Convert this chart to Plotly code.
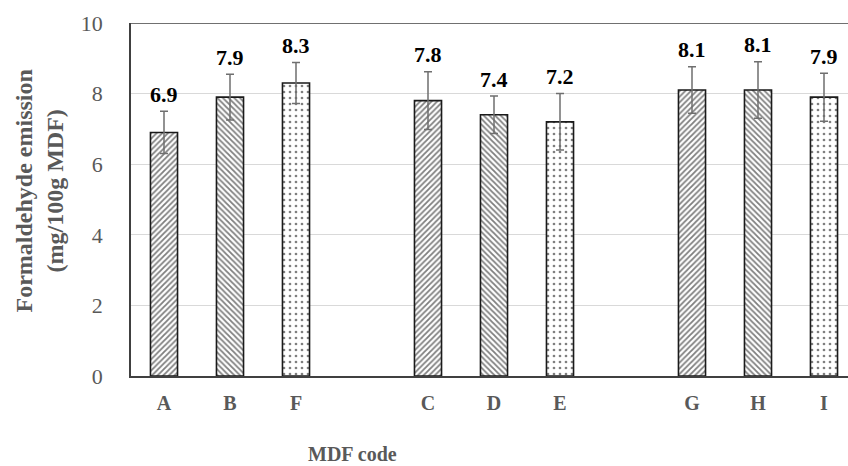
import plotly.graph_objects as go

# ---- data ----
groups = [["A", "B", "F"], ["C", "D", "E"], ["G", "H", "I"]]
values = [6.9, 7.9, 8.3, 7.8, 7.4, 7.2, 8.1, 8.1, 7.9]
errors = [0.6, 0.65, 0.58, 0.82, 0.53, 0.8, 0.66, 0.8, 0.68]
patterns = ["/", "\\", ".", "/", "\\", ".", "/", "\\", "."]
y_ticks = [0, 2, 4, 6, 8, 10]

# slot index for each bar: one empty slot between groups
codes, xpos = [], []
slot = 0
for g in groups:
    for c in g:
        codes.append(c)
        xpos.append(slot)
        slot += 1
    slot += 1

W, H = 848, 466
ML, MT, MB, MR = 131, 23, 90, 0
plot_w = W - ML - MR
slot_px = 66
x_max = -0.5 + plot_w / slot_px

GREY = "#595959"
FONT = "Liberation Serif"

pat_size = [4 if p != "." else 6 for p in patterns]
pat_sol = [0.45 if p != "." else 0.16 for p in patterns]

fig = go.Figure()
fig.add_trace(go.Bar(
    x=xpos, y=values, width=0.41,
    marker=dict(
        color="white",
        line=dict(color="#1a1a1a", width=1.6),
        pattern=dict(shape=patterns, fgcolor="black", bgcolor="white",
                     size=pat_size, solidity=pat_sol, fillmode="overlay"),
    ),
    error_y=dict(type="data", array=errors, visible=True,
                 color="#6f6f6f", thickness=1.5, width=4),
    hoverinfo="skip",
))

for x, v, e in zip(xpos, values, errors):
    fig.add_annotation(x=x, y=v + e, text=f"<b>{v:.1f}</b>", showarrow=False,
                       yanchor="middle", yshift=17,
                       font=dict(family=FONT, size=22, color="black"))

# axis titles
fig.add_annotation(xref="paper", yref="paper", x=0, y=0.5, xshift=-92, yshift=8,
                   text="<b>Formaldehyde emission<br>(mg/100g MDF)</b>",
                   textangle=-90, showarrow=False, xanchor="center", yanchor="middle",
                   font=dict(family=FONT, size=24, color=GREY))
fig.add_annotation(xref="paper", yref="paper", x=0, y=0, xshift=352 - ML, yshift=-78,
                   text="<b>MDF code</b>", showarrow=False,
                   xanchor="center", yanchor="middle",
                   font=dict(family=FONT, size=20, color=GREY))

# top frame line
fig.add_shape(type="line", xref="paper", yref="y", x0=0, x1=1, y0=10, y1=10,
              line=dict(color="#404040", width=1.5))

fig.update_layout(
    width=W, height=H,
    margin=dict(l=ML, r=MR, t=MT, b=MB, pad=0, autoexpand=False),
    paper_bgcolor="white", plot_bgcolor="white",
    showlegend=False,
    xaxis=dict(range=[-0.5, x_max], tickmode="array", tickvals=xpos,
               ticktext=[f"<b>{c}</b>" for c in codes],
               showgrid=False, zeroline=False, showline=True,
               linecolor="#404040", linewidth=1.5, ticks="",
               automargin=False, ticklabelstandoff=8,
               tickfont=dict(family=FONT, size=20, color=GREY)),
    yaxis=dict(range=[0, 10], tickmode="array", tickvals=y_ticks,
               showgrid=True, gridcolor="#d9d9d9", gridwidth=1,
               zeroline=False, showline=True, linecolor="#404040", linewidth=1.5,
               ticks="", automargin=False, ticklabelstandoff=22,
               tickfont=dict(family=FONT, size=22, color=GREY)),
)

fig.write_html("out.html", config={"displayModeBar": False},
               post_script="document.body.style.margin='0';document.body.style.overflow='hidden';")
